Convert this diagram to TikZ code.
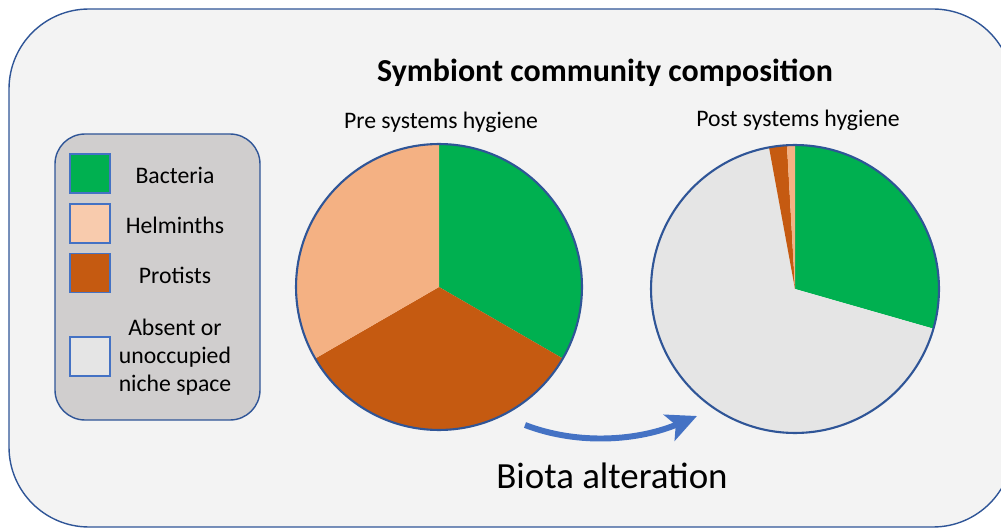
\documentclass[tikz,border=0pt]{standalone}
\usepackage{fontspec}
\setmainfont{Carlito}
\usetikzlibrary{arrows.meta}
\definecolor{panelbg}{HTML}{F3F3F3}
\definecolor{edgeblue}{HTML}{2F5597}
\definecolor{keybg}{HTML}{D0CECE}
\definecolor{bacteria}{HTML}{00B050}
\definecolor{helminth}{HTML}{F4B183}
\definecolor{helminthkey}{HTML}{F8CBAD}
\definecolor{protist}{HTML}{C55A11}
\definecolor{absent}{HTML}{E5E5E5}
\definecolor{arrowblue}{HTML}{4472C4}
\tikzset{
  swatch/.style={draw=arrowblue, line width=0.7pt, minimum width=0.8cm, minimum height=0.78cm, inner sep=0pt},
  keytext/.style={font=\fontsize{13.5}{15.9}\selectfont, align=center},
  pieedge/.style={circle, draw=edgeblue, line width=1.2pt, inner sep=0pt},
}
\begin{document}
\begin{tikzpicture}[x=0.02cm, y=0.02cm]
    \useasboundingbox (0, 0) rectangle (1001, 528);
    \filldraw[draw=edgeblue, fill=panelbg, line width=0.8pt, rounded corners=1.6cm] (9, 1) rectangle (1013, 519);
    \filldraw[draw=edgeblue, fill=keybg, line width=0.8pt, rounded corners=0.6cm] (55, 108) rectangle (260, 394);
    \node[swatch, fill=bacteria] (keybac) at (90, 354.5) {};
    \node[swatch, fill=helminthkey] (keyhel) at (90, 304.5) {};
    \node[swatch, fill=protist] (keypro) at (90, 255) {};
    \node[swatch, fill=absent] (keyabs) at (90, 171.5) {};
    \node[keytext] (labbac) at (175, 353) {Bacteria};
    \node[keytext] (labhel) at (175, 303) {Helminths};
    \node[keytext] (labpro) at (175, 253) {Protists};
    \node[keytext] (lababs) at (175, 171) {Absent or\\unoccupied\\niche space};
    \node[font=\fontsize{18.2}{21}\selectfont\bfseries] (title) at (605, 455) {Symbiont community composition};
    \node[keytext] (pretitle) at (441, 406) {Pre systems hygiene};
    \node[keytext] (posttitle) at (798, 408) {Post systems hygiene};
    \coordinate (precentre) at (439, 241);
    \fill[bacteria] (precentre) -- ++(90:143) arc (90:-30:143) -- cycle;
    \fill[protist] (precentre) -- ++(-30:143) arc (-30:-150:143) -- cycle;
    \fill[helminth] (precentre) -- ++(210:143) arc (210:90:143) -- cycle;
    \node[pieedge, minimum size=5.72cm] (prepie) at (precentre) {};
    \coordinate (postcentre) at (795, 239);
    \fill[bacteria] (postcentre) -- ++(90:144) arc (90:-16:144) -- cycle;
    \fill[absent] (postcentre) -- ++(-16:144) arc (-16:-259.6:144) -- cycle;
    \fill[protist] (postcentre) -- ++(100.4:144) arc (100.4:93.2:144) -- cycle;
    \fill[helminth] (postcentre) -- ++(93.2:144) arc (93.2:90:144) -- cycle;
    \node[pieedge, minimum size=5.76cm] (postpie) at (postcentre) {};
    \coordinate (arrowstart) at (525, 103);
    \coordinate (arrowend) at (697, 112);
    \draw[arrowblue, line width=3.4pt, -{Stealth[length=0.6cm, width=0.56cm, inset=0.14cm]}] (arrowstart) .. controls (580, 82) and (640, 88) .. (arrowend);
    \node[font=\fontsize{21}{24}\selectfont] (change) at (612, 52) {Biota alteration};
\end{tikzpicture}
\end{document}
